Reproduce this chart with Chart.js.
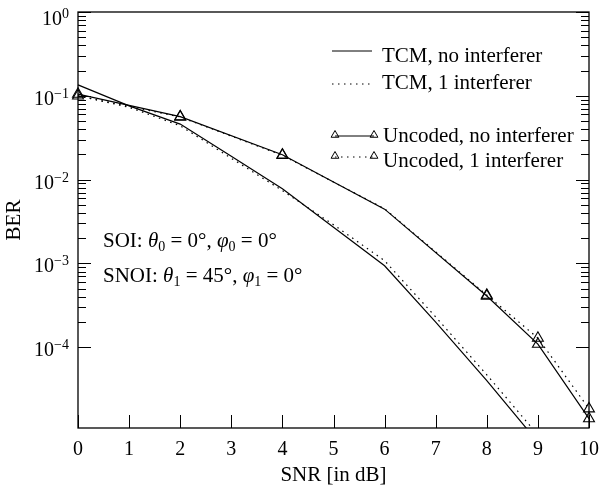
<!DOCTYPE html>
<html>
<head>
<meta charset="utf-8">
<script src="https://cdn.jsdelivr.net/npm/chart.js@4.4.0/dist/chart.umd.min.js"></script>
<style>
  html, body { margin:0; padding:0; background:#fff; }
</style>
</head>
<body>
<canvas id="ber" width="609" height="488"></canvas>
<script>
// ====== BER vs SNR – TCM / uncoded ======
const SERIF = '"Liberation Serif", "Times New Roman", serif';

// --- valores ---
const snrTcm     = [0, 1, 2, 3, 4, 5, 6, 7, 8, 9];
const berTcmNone = [0.135, 0.076, 0.046, 0.019, 7.8e-3, 2.7e-3, 9.4e-4, 2.0e-4, 4.0e-5, 7.4e-6];
const berTcmOne  = [0.100, 0.073, 0.044, 0.018, 7.4e-3, 2.9e-3, 1.08e-3, 2.3e-4, 4.7e-5, 9.0e-6];

const snrUncoded = [0, 2, 4, 6, 8, 9, 10];
const berUncNone = [0.105, 0.0565, 0.0198, 4.45e-3, 4.1e-4, 1.09e-4, 1.41e-5];
const berUncOne  = [0.100, 0.0560, 0.0195, 4.5e-3, 4.2e-4, 1.29e-4, 1.85e-5];
const uncMarker  = [true, true, true, false, true, true, true];

const seriesLabels = ['TCM, no interferer', 'TCM, 1 interferer', 'Uncoded, no interferer', 'Uncoded, 1 interferer'];
const xTicks   = [0, 1, 2, 3, 4, 5, 6, 7, 8, 9, 10];
const yDecades = [0, -1, -2, -3, -4];
const yMin = 1.09e-5, yMax = 1;
const xTitle = 'SNR [in dB]';
const yTitle = 'BER';

// texto de la anotación: [texto, estilo]  n=normal, i=itálica, s=subíndice
const noteSoi  = [['SOI: ', 'n'], ['θ', 'i'], ['0', 's'], [' = 0°, ', 'n'], ['φ', 'i'], ['0', 's'], [' = 0°', 'n']];
const noteSnoi = [['SNOI: ', 'n'], ['θ', 'i'], ['1', 's'], [' = 45°, ', 'n'], ['φ', 'i'], ['1', 's'], [' = 0°', 'n']];

const pts = (xs, ys) => xs.map((x, i) => ({ x, y: ys[i] }));
const DOT = [1.5, 4.5];
const clipBottom = { left: 10, top: 10, right: 10, bottom: 0 };

// --- ejes en caja, marcas hacia dentro, etiquetas 10^n, leyenda y notas ---
const frameAxes = {
  id: 'frameAxes',
  afterDraw(chart) {
    const { ctx, chartArea: a, scales: { x, y } } = chart;
    ctx.save();
    ctx.strokeStyle = '#000';
    ctx.fillStyle = '#000';

    ctx.lineWidth = 1;
    ctx.beginPath();
    for (const e of yDecades) {
      for (let k = 1; k <= 9; k++) {
        const v = k * Math.pow(10, e);
        if (v < y.min || v > y.max) continue;
        const py = Math.round(y.getPixelForValue(v)) + 0.5;
        const len = k === 1 ? 13 : 8;
        ctx.moveTo(a.left, py);  ctx.lineTo(a.left + len, py);
        ctx.moveTo(a.right, py); ctx.lineTo(a.right - len, py);
      }
    }
    for (const v of xTicks) {
      const px = Math.round(x.getPixelForValue(v)) + 0.5;
      ctx.moveTo(px, a.bottom); ctx.lineTo(px, a.bottom - 13);
    }
    ctx.stroke();

    ctx.lineWidth = 1.3;
    ctx.strokeRect(a.left, a.top, a.right - a.left, a.bottom - a.top);

    // etiquetas del eje y con exponente
    ctx.textBaseline = 'alphabetic';
    for (const e of yDecades) {
      const py = y.getPixelForValue(Math.pow(10, e));
      const base = Math.max(py + 9, a.top + 13);
      const exp = String(e).replace('-', '\u2212');
      ctx.font = `14px ${SERIF}`;
      const ew = ctx.measureText(exp).width;
      const right = a.left - 9;
      ctx.textAlign = 'left';
      ctx.fillText(exp, right - ew, base - 7);
      ctx.font = `20px ${SERIF}`;
      ctx.textAlign = 'right';
      ctx.fillText('10', right - ew, base);
    }

    // leyenda
    const rows = [
      { base: 49.7,  line: 39,  x0: 254, x1: 294, tx: 304 },
      { base: 77.3,  line: 72,  x0: 254, x1: 294, tx: 304 },
      { base: 129.7, line: 124, x0: 257, x1: 296, tx: 305 },
      { base: 154.7, line: 145, x0: 257, x1: 296, tx: 305 }
    ];
    chart.data.datasets.forEach((ds, i) => {
      const r = rows[i];
      const ly = a.top + r.line;
      ctx.lineWidth = 1;
      ctx.setLineDash(ds.borderDash || []);
      ctx.beginPath();
      ctx.moveTo(a.left + r.x0, ly); ctx.lineTo(a.left + r.x1, ly);
      ctx.stroke();
      ctx.setLineDash([]);
      if (ds.pointStyle === 'triangle') {
        for (const tx of [r.x0, r.x1]) {
          const cx = a.left + tx, cy = ly - 1, rad = 4.5;
          ctx.beginPath();
          ctx.moveTo(cx, cy - rad);
          ctx.lineTo(cx + rad * 0.866, cy + rad * 0.5);
          ctx.lineTo(cx - rad * 0.866, cy + rad * 0.5);
          ctx.closePath();
          ctx.stroke();
        }
      }
      ctx.font = `21px ${SERIF}`;
      ctx.textAlign = 'left';
      ctx.fillText(ds.label, a.left + r.tx, a.top + r.base);
    });

    // notas SOI / SNOI
    const drawNote = (parts, x0, base) => {
      let cx = x0;
      for (const [t, s] of parts) {
        let font = `21px ${SERIF}`, dy = 0;
        if (s === 'i') font = `italic 21px ${SERIF}`;
        if (s === 's') { font = `14px ${SERIF}`; dy = 4; }
        ctx.font = font;
        ctx.fillText(t, cx, base + dy);
        cx += ctx.measureText(t).width;
      }
    };
    drawNote(noteSoi,  a.left + 25, a.top + 234.7);
    drawNote(noteSnoi, a.left + 25, a.top + 269.7);

    ctx.restore();
  }
};

const ctx = document.getElementById('ber');
const chart = new Chart(ctx, {
  type: 'line',
  data: { datasets: [
    { label: seriesLabels[0], data: pts(snrTcm, berTcmNone), borderColor: '#000', borderWidth: 1.2,
      pointRadius: 0, tension: 0, clip: clipBottom },
    { label: seriesLabels[1], data: pts(snrTcm, berTcmOne), borderColor: '#000', borderWidth: 1.2,
      borderDash: DOT, pointRadius: 0, tension: 0, clip: clipBottom },
    { label: seriesLabels[2], data: pts(snrUncoded, berUncNone), borderColor: '#000', borderWidth: 1.2,
      pointStyle: 'triangle', pointRadius: uncMarker.map(m => m ? 6.3 : 0),
      pointBorderColor: '#000', pointBackgroundColor: 'rgba(0,0,0,0)', pointBorderWidth: 1.1,
      tension: 0, clip: clipBottom },
    { label: seriesLabels[3], data: pts(snrUncoded, berUncOne), borderColor: '#000', borderWidth: 1.2,
      borderDash: DOT, pointStyle: 'triangle', pointRadius: uncMarker.map(m => m ? 6.3 : 0),
      pointBorderColor: '#000', pointBackgroundColor: 'rgba(0,0,0,0)', pointBorderWidth: 1.1,
      tension: 0, clip: clipBottom }
  ]},
  options: {
    responsive: false, animation: false, parsing: false, events: [],
    layout: { padding: { top: 12, right: 8, left: 0, bottom: 0 } },
    scales: {
      x: {
        type: 'linear', min: 0, max: 10,
        afterBuildTicks: s => { s.ticks = xTicks.map(v => ({ value: v })); },
        afterFit: s => { s.height = 60; },
        grid: { display: false, drawTicks: false },
        border: { display: false },
        ticks: { color: '#000', font: { family: SERIF, size: 20 }, padding: 10, maxRotation: 0, autoSkip: false },
        title: { display: true, text: xTitle, color: '#000', font: { family: SERIF, size: 21 }, padding: { top: 0, bottom: 0 } }
      },
      y: {
        type: 'logarithmic', min: yMin, max: yMax,
        afterFit: s => { s.width = 78; },
        grid: { display: false, drawTicks: false },
        border: { display: false },
        ticks: { display: false },
        title: { display: true, text: yTitle, color: '#000', font: { family: SERIF, size: 21 }, padding: { top: 2, bottom: 0 } }
      }
    },
    plugins: { legend: { display: false }, tooltip: { enabled: false } }
  },
  plugins: [frameAxes]
});
</script>
</body>
</html>
